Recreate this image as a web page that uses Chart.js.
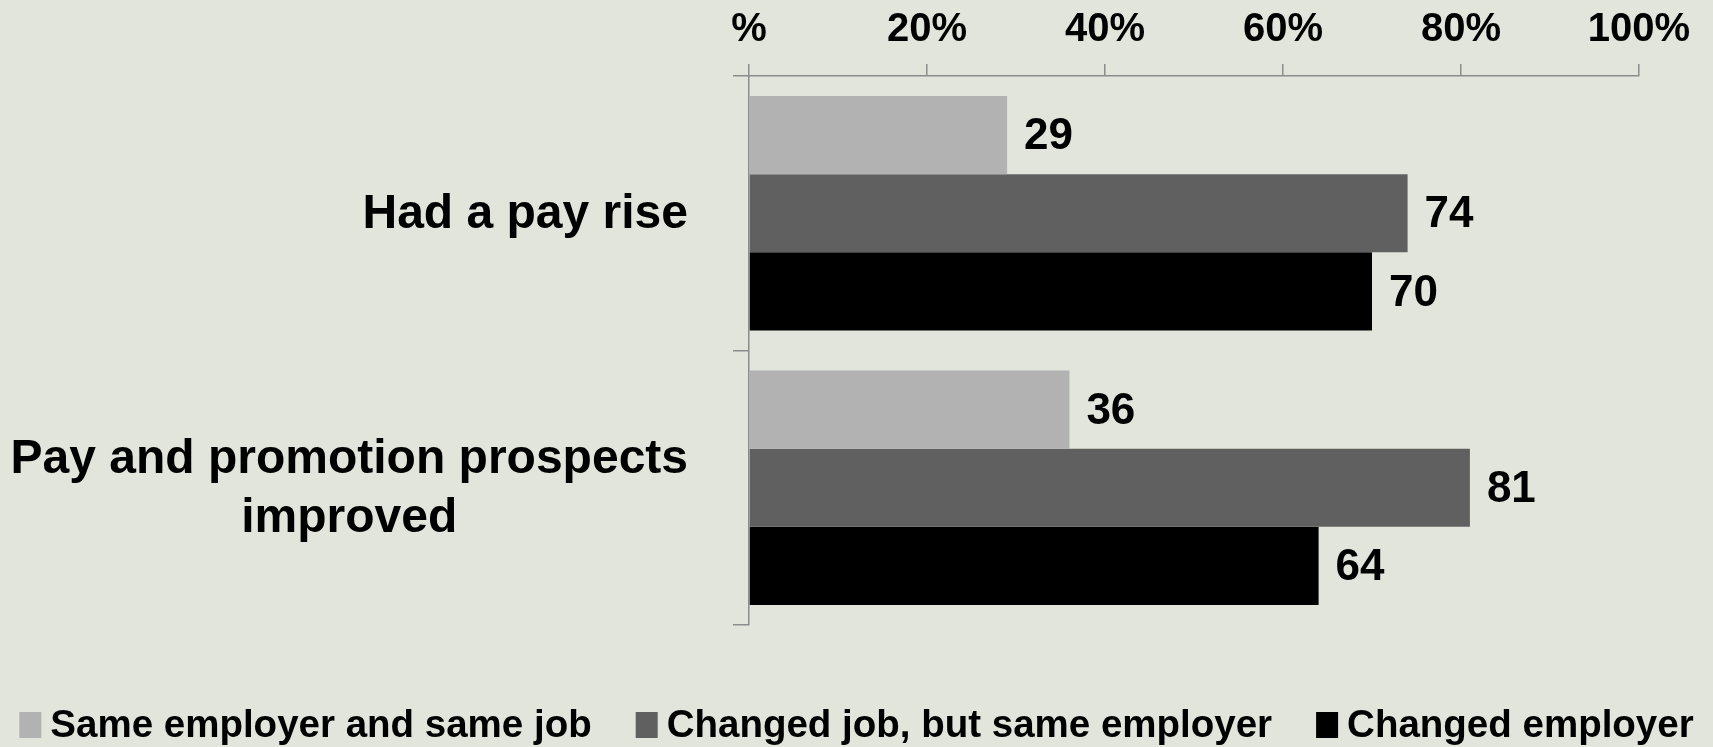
<!DOCTYPE html>
<html>
<head>
<meta charset="utf-8">
<script src="https://cdn.jsdelivr.net/npm/chart.js@4.4.1/dist/chart.umd.min.js"></script>
<style>
html,body{margin:0;padding:0;background:#e2e5dc;}
#wrap{width:1713px;height:747px;}
</style>
</head>
<body>
<div id="wrap"><canvas id="myChart" width="1713" height="747"></canvas></div>
<script>
// data
const categories=[['Had a pay rise'],['Pay and promotion prospects','improved']];
const series_names=['Same employer and same job','Changed job, but same employer','Changed employer'];
const same_job=[29,36];
const changed_job=[74,81];
const changed_employer=[70,64];
const x_ticks=[0,20,40,60,80,100];
const x_tick_labels=['%','20%','40%','60%','80%','100%'];
const colours=['#b2b2b2','#606060','#000000'];

const FONT="'Liberation Sans', Arial, sans-serif";
const axis_grey='#8c8c8c';

// category labels, value labels and legend drawn on top
const extra_text={
    id:'extra_text',
    afterDraw(chart){
        const ctx=chart.ctx;
        const y_scale=chart.scales.y;
        ctx.save();
        ctx.fillStyle='#000';
        ctx.textBaseline='middle';

        ctx.font='bold 48px '+FONT;
        ctx.textAlign='center';
        categories.forEach((lines,i)=>{
            const w=Math.max(...lines.map(l=>ctx.measureText(l).width));
            const cx=y_scale.right-61-w/2;
            const cy=y_scale.getPixelForTick(i);
            lines.forEach((l,j)=>{
                ctx.fillText(l,cx,cy+2+(j-(lines.length-1)/2)*59);
            });
        });

        ctx.font='bold 44px '+FONT;
        ctx.textAlign='left';
        chart.data.datasets.forEach((ds,di)=>{
            chart.getDatasetMeta(di).data.forEach((bar,i)=>{
                ctx.fillText(ds.data[i],bar.x+17,bar.y+2);
            });
        });

        // legend
        ctx.font='bold 38.5px '+FONT;
        const box_w=22, box_h=26, box_gap=9, item_gap=44, ly=726;
        const widths=chart.data.datasets.map(ds=>ctx.measureText(ds.label).width);
        let total=0;
        widths.forEach(w=>{total+=box_w+box_gap+w;});
        total+=item_gap*(widths.length-1);
        let lx=(chart.width-total)/2;
        chart.data.datasets.forEach((ds,di)=>{
            ctx.fillStyle=ds.backgroundColor;
            ctx.fillRect(lx,ly-box_h/2-1,box_w,box_h);
            ctx.fillStyle='#000';
            ctx.fillText(ds.label,lx+box_w+box_gap,ly);
            lx+=box_w+box_gap+widths[di]+item_gap;
        });
        ctx.restore();
    }
};

const ctx=document.getElementById('myChart').getContext('2d');
const myChart=new Chart(ctx,{
    type:'bar',
    data:{
        labels:categories,
        datasets:[
            {label:series_names[0],data:same_job,backgroundColor:colours[0]},
            {label:series_names[1],data:changed_job,backgroundColor:colours[1]},
            {label:series_names[2],data:changed_employer,backgroundColor:colours[2]}
        ]
    },
    plugins:[extra_text],
    options:{
        indexAxis:'y',
        responsive:false,
        animation:false,
        layout:{padding:{top:-4,bottom:122,left:0,right:0}},
        plugins:{legend:{display:false},tooltip:{enabled:false}},
        datasets:{bar:{categoryPercentage:0.854,barPercentage:1}},
        scales:{
            x:{
                position:'top',
                min:0,
                max:100,
                afterBuildTicks:s=>{s.ticks=x_ticks.map(v=>({value:v}));},
                ticks:{
                    callback:(v,i)=>x_tick_labels[i],
                    font:{size:40,weight:'bold',family:FONT,lineHeight:1},
                    color:'#000',
                    padding:14,
                    maxRotation:0
                },
                grid:{drawOnChartArea:false,tickLength:12,color:axis_grey,lineWidth:1.5},
                border:{color:axis_grey,width:1.5},
                afterFit(s){s.paddingRight=74;}
            },
            y:{
                ticks:{display:false},
                grid:{drawOnChartArea:false,tickLength:16,color:axis_grey,lineWidth:1.5},
                border:{color:axis_grey,width:1.5},
                afterFit(s){s.width=749;}
            }
        }
    }
});
</script>
</body>
</html>
